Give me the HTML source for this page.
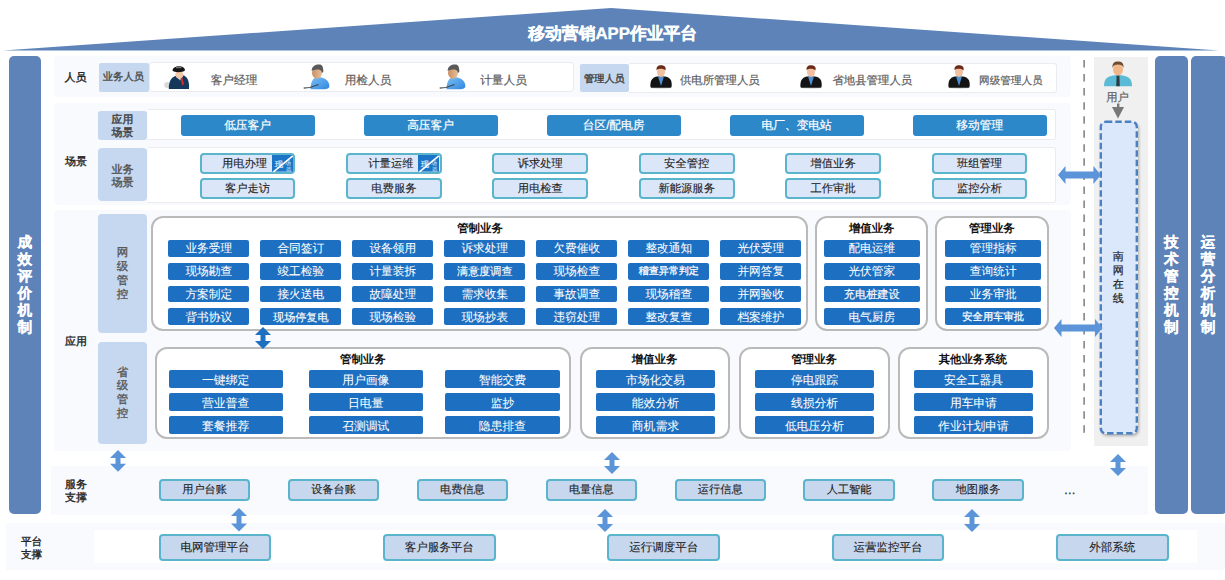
<!DOCTYPE html><html><head><meta charset="utf-8"><style>
html,body{margin:0;padding:0;background:#fff;}
body{width:1225px;height:580px;position:relative;overflow:hidden;font-family:"Liberation Sans", sans-serif;text-rendering:geometricPrecision;}
div{box-sizing:border-box;}
svg{position:absolute;overflow:visible;}
</style></head><body>
<svg style="left:0;top:0" width="1225" height="60"><polygon points="3,50.5 611,8 1219,50.5" fill="#5d83b9"/></svg>
<div style="position:absolute;left:412.70px;top:24.40px;width:400.00px;height:20.00px;line-height:20.00px;text-align:center;white-space:nowrap;color:#fff;font-size:16.8px;font-weight:bold;-webkit-text-stroke:0.3px #fff;">移动营销APP作业平台</div>
<div style="position:absolute;left:8.50px;top:56.00px;width:32.50px;height:457.50px;background:#5e83b9;border-radius:5px;"></div>
<div style="position:absolute;left:1155.00px;top:56.00px;width:32.50px;height:457.50px;background:#5e83b9;border-radius:5px;"></div>
<div style="position:absolute;left:1191.00px;top:56.00px;width:36.00px;height:457.50px;background:#5e83b9;border-radius:5px;"></div>
<div style="position:absolute;left:-175.10px;top:232.70px;width:400.00px;height:20.00px;line-height:20.00px;text-align:center;white-space:nowrap;color:#fff;font-size:14.6px;font-weight:bold;-webkit-text-stroke:0.2px #fff;">成</div>
<div style="position:absolute;left:-175.10px;top:249.80px;width:400.00px;height:20.00px;line-height:20.00px;text-align:center;white-space:nowrap;color:#fff;font-size:14.6px;font-weight:bold;-webkit-text-stroke:0.2px #fff;">效</div>
<div style="position:absolute;left:-175.10px;top:266.90px;width:400.00px;height:20.00px;line-height:20.00px;text-align:center;white-space:nowrap;color:#fff;font-size:14.6px;font-weight:bold;-webkit-text-stroke:0.2px #fff;">评</div>
<div style="position:absolute;left:-175.10px;top:284.00px;width:400.00px;height:20.00px;line-height:20.00px;text-align:center;white-space:nowrap;color:#fff;font-size:14.6px;font-weight:bold;-webkit-text-stroke:0.2px #fff;">价</div>
<div style="position:absolute;left:-175.10px;top:301.10px;width:400.00px;height:20.00px;line-height:20.00px;text-align:center;white-space:nowrap;color:#fff;font-size:14.6px;font-weight:bold;-webkit-text-stroke:0.2px #fff;">机</div>
<div style="position:absolute;left:-175.10px;top:318.20px;width:400.00px;height:20.00px;line-height:20.00px;text-align:center;white-space:nowrap;color:#fff;font-size:14.6px;font-weight:bold;-webkit-text-stroke:0.2px #fff;">制</div>
<div style="position:absolute;left:971.30px;top:232.70px;width:400.00px;height:20.00px;line-height:20.00px;text-align:center;white-space:nowrap;color:#fff;font-size:14.6px;font-weight:bold;-webkit-text-stroke:0.2px #fff;">技</div>
<div style="position:absolute;left:971.30px;top:249.80px;width:400.00px;height:20.00px;line-height:20.00px;text-align:center;white-space:nowrap;color:#fff;font-size:14.6px;font-weight:bold;-webkit-text-stroke:0.2px #fff;">术</div>
<div style="position:absolute;left:971.30px;top:266.90px;width:400.00px;height:20.00px;line-height:20.00px;text-align:center;white-space:nowrap;color:#fff;font-size:14.6px;font-weight:bold;-webkit-text-stroke:0.2px #fff;">管</div>
<div style="position:absolute;left:971.30px;top:284.00px;width:400.00px;height:20.00px;line-height:20.00px;text-align:center;white-space:nowrap;color:#fff;font-size:14.6px;font-weight:bold;-webkit-text-stroke:0.2px #fff;">控</div>
<div style="position:absolute;left:971.30px;top:301.10px;width:400.00px;height:20.00px;line-height:20.00px;text-align:center;white-space:nowrap;color:#fff;font-size:14.6px;font-weight:bold;-webkit-text-stroke:0.2px #fff;">机</div>
<div style="position:absolute;left:971.30px;top:318.20px;width:400.00px;height:20.00px;line-height:20.00px;text-align:center;white-space:nowrap;color:#fff;font-size:14.6px;font-weight:bold;-webkit-text-stroke:0.2px #fff;">制</div>
<div style="position:absolute;left:1008.00px;top:232.70px;width:400.00px;height:20.00px;line-height:20.00px;text-align:center;white-space:nowrap;color:#fff;font-size:14.6px;font-weight:bold;-webkit-text-stroke:0.2px #fff;">运</div>
<div style="position:absolute;left:1008.00px;top:249.80px;width:400.00px;height:20.00px;line-height:20.00px;text-align:center;white-space:nowrap;color:#fff;font-size:14.6px;font-weight:bold;-webkit-text-stroke:0.2px #fff;">营</div>
<div style="position:absolute;left:1008.00px;top:266.90px;width:400.00px;height:20.00px;line-height:20.00px;text-align:center;white-space:nowrap;color:#fff;font-size:14.6px;font-weight:bold;-webkit-text-stroke:0.2px #fff;">分</div>
<div style="position:absolute;left:1008.00px;top:284.00px;width:400.00px;height:20.00px;line-height:20.00px;text-align:center;white-space:nowrap;color:#fff;font-size:14.6px;font-weight:bold;-webkit-text-stroke:0.2px #fff;">析</div>
<div style="position:absolute;left:1008.00px;top:301.10px;width:400.00px;height:20.00px;line-height:20.00px;text-align:center;white-space:nowrap;color:#fff;font-size:14.6px;font-weight:bold;-webkit-text-stroke:0.2px #fff;">机</div>
<div style="position:absolute;left:1008.00px;top:318.20px;width:400.00px;height:20.00px;line-height:20.00px;text-align:center;white-space:nowrap;color:#fff;font-size:14.6px;font-weight:bold;-webkit-text-stroke:0.2px #fff;">制</div>
<div style="position:absolute;left:54.00px;top:56.00px;width:1017.00px;height:40.50px;background:#f9fafd;border-radius:4px;"></div>
<div style="position:absolute;left:54.00px;top:102.50px;width:1017.00px;height:102.50px;background:#f9fafd;border-radius:4px;"></div>
<div style="position:absolute;left:54.00px;top:210.00px;width:1017.00px;height:241.00px;background:#f9fafd;border-radius:4px;"></div>
<div style="position:absolute;left:51.00px;top:465.50px;width:1097.00px;height:49.50px;background:#f9fafd;"></div>
<div style="position:absolute;left:6.00px;top:522.80px;width:1219.00px;height:47.50px;background:#f9fafd;"></div>
<div style="position:absolute;left:93.70px;top:530.20px;width:1103.00px;height:33.20px;background:#fff;"></div>
<div style="position:absolute;left:1093.50px;top:56.50px;width:54.00px;height:389.00px;background:#f0f0f0;"></div>
<svg style="left:1082px;top:60.3px" width="4" height="376"><line x1="2.1" y1="0" x2="2.1" y2="373" stroke="#6a6a6a" stroke-width="1.3" stroke-dasharray="7.5,6.55"/></svg>
<div style="position:absolute;left:-124.40px;top:67.90px;width:400.00px;height:20.00px;line-height:20.00px;text-align:center;white-space:nowrap;color:#222;font-size:11.0px;-webkit-text-stroke:0.35px #222;">人员</div>
<div style="position:absolute;left:99.00px;top:62.80px;width:49.50px;height:29.00px;background:#c6d8f0;border-radius:2px;"></div>
<div style="position:absolute;left:-76.60px;top:67.80px;width:400.00px;height:20.00px;line-height:20.00px;text-align:center;white-space:nowrap;color:#4a4a4a;font-size:10.3px;-webkit-text-stroke:0.35px #4a4a4a;">业务人员</div>
<div style="position:absolute;left:148.50px;top:62.30px;width:425.80px;height:29.50px;background:#fff;border:1px solid #ececf0;border-radius:3px;"></div>
<div style="position:absolute;left:580.20px;top:63.90px;width:49.20px;height:28.50px;background:#c6d8f0;border-radius:2px;"></div>
<div style="position:absolute;left:404.40px;top:70.00px;width:400.00px;height:20.00px;line-height:20.00px;text-align:center;white-space:nowrap;color:#444;font-size:10.2px;-webkit-text-stroke:0.4px #444;">管理人员</div>
<div style="position:absolute;left:629.40px;top:62.50px;width:427.40px;height:30.20px;background:#fff;border:1px solid #ececf0;border-left:none;border-radius:0 3px 3px 0;"></div>
<div style="position:absolute;left:34.00px;top:70.80px;width:400.00px;height:20.00px;line-height:20.00px;text-align:center;white-space:nowrap;color:#606060;font-size:11.65px;-webkit-text-stroke:0.2px #606060;">客户经理</div>
<div style="position:absolute;left:168.00px;top:70.80px;width:400.00px;height:20.00px;line-height:20.00px;text-align:center;white-space:nowrap;color:#606060;font-size:11.65px;-webkit-text-stroke:0.2px #606060;">用检人员</div>
<div style="position:absolute;left:303.50px;top:70.80px;width:400.00px;height:20.00px;line-height:20.00px;text-align:center;white-space:nowrap;color:#606060;font-size:11.65px;-webkit-text-stroke:0.2px #606060;">计量人员</div>
<div style="position:absolute;left:519.80px;top:70.80px;width:400.00px;height:20.00px;line-height:20.00px;text-align:center;white-space:nowrap;color:#606060;font-size:11.4px;-webkit-text-stroke:0.2px #606060;">供电所管理人员</div>
<div style="position:absolute;left:672.30px;top:70.80px;width:400.00px;height:20.00px;line-height:20.00px;text-align:center;white-space:nowrap;color:#606060;font-size:11.4px;-webkit-text-stroke:0.2px #606060;">省地县管理人员</div>
<div style="position:absolute;left:810.90px;top:70.80px;width:400.00px;height:20.00px;line-height:20.00px;text-align:center;white-space:nowrap;color:#606060;font-size:10.6px;-webkit-text-stroke:0.2px #606060;">网级管理人员</div>
<div style="position:absolute;left:-124.00px;top:152.10px;width:400.00px;height:20.00px;line-height:20.00px;text-align:center;white-space:nowrap;color:#222;font-size:11.0px;-webkit-text-stroke:0.35px #222;">场景</div>
<div style="position:absolute;left:98.10px;top:110.50px;width:49.30px;height:29.30px;background:#c6d8f0;border-radius:3px;"></div>
<div style="position:absolute;left:-77.60px;top:109.60px;width:400.00px;height:20.00px;line-height:20.00px;text-align:center;white-space:nowrap;color:#444;font-size:10.9px;-webkit-text-stroke:0.45px #444;">应用</div>
<div style="position:absolute;left:-77.60px;top:123.30px;width:400.00px;height:20.00px;line-height:20.00px;text-align:center;white-space:nowrap;color:#444;font-size:10.9px;-webkit-text-stroke:0.45px #444;">场景</div>
<div style="position:absolute;left:147.80px;top:109.30px;width:908.00px;height:31.00px;background:#fff;border:1px solid #ececf0;border-left:none;border-radius:0 3px 3px 0;"></div>
<div style="position:absolute;left:180.50px;top:114.70px;width:134.00px;height:21.30px;background:#2c88c9;border-radius:3px;"></div>
<div style="position:absolute;left:47.50px;top:115.90px;width:400.00px;height:20.00px;line-height:20.00px;text-align:center;white-space:nowrap;color:#fff;font-size:11.7px;-webkit-text-stroke:0.2px #fff;">低压客户</div>
<div style="position:absolute;left:363.55px;top:114.70px;width:134.00px;height:21.30px;background:#2c88c9;border-radius:3px;"></div>
<div style="position:absolute;left:230.55px;top:115.90px;width:400.00px;height:20.00px;line-height:20.00px;text-align:center;white-space:nowrap;color:#fff;font-size:11.7px;-webkit-text-stroke:0.2px #fff;">高压客户</div>
<div style="position:absolute;left:546.60px;top:114.70px;width:134.00px;height:21.30px;background:#2c88c9;border-radius:3px;"></div>
<div style="position:absolute;left:413.60px;top:115.90px;width:400.00px;height:20.00px;line-height:20.00px;text-align:center;white-space:nowrap;color:#fff;font-size:11.7px;-webkit-text-stroke:0.2px #fff;">台区/配电房</div>
<div style="position:absolute;left:729.65px;top:114.70px;width:134.00px;height:21.30px;background:#2c88c9;border-radius:3px;"></div>
<div style="position:absolute;left:596.65px;top:115.90px;width:400.00px;height:20.00px;line-height:20.00px;text-align:center;white-space:nowrap;color:#fff;font-size:11.7px;-webkit-text-stroke:0.2px #fff;">电厂、变电站</div>
<div style="position:absolute;left:912.70px;top:114.70px;width:134.00px;height:21.30px;background:#2c88c9;border-radius:3px;"></div>
<div style="position:absolute;left:779.70px;top:115.90px;width:400.00px;height:20.00px;line-height:20.00px;text-align:center;white-space:nowrap;color:#fff;font-size:11.7px;-webkit-text-stroke:0.2px #fff;">移动管理</div>
<div style="position:absolute;left:97.60px;top:148.10px;width:49.80px;height:52.70px;background:#c6d8f0;border-radius:4px;"></div>
<div style="position:absolute;left:-77.40px;top:159.80px;width:400.00px;height:20.00px;line-height:20.00px;text-align:center;white-space:nowrap;color:#555;font-size:11.1px;-webkit-text-stroke:0.4px #555;">业务</div>
<div style="position:absolute;left:-77.40px;top:173.40px;width:400.00px;height:20.00px;line-height:20.00px;text-align:center;white-space:nowrap;color:#555;font-size:11.1px;-webkit-text-stroke:0.4px #555;">场景</div>
<div style="position:absolute;left:147.80px;top:147.00px;width:908.00px;height:55.50px;background:#fff;border:1px solid #ececf0;border-left:none;border-radius:0 3px 3px 0;"></div>
<div style="position:absolute;left:199.60px;top:152.80px;width:95.80px;height:21.00px;background:#dce6f9;border:2px solid #5ab4cb;border-radius:4px;"></div>
<div style="position:absolute;left:44.50px;top:154.10px;width:400.00px;height:20.00px;line-height:20.00px;text-align:center;white-space:nowrap;color:#222;font-size:11.3px;-webkit-text-stroke:0.1px #222;">用电办理</div>
<div style="position:absolute;left:199.60px;top:177.70px;width:95.80px;height:21.00px;background:#dce6f9;border:2px solid #5ab4cb;border-radius:4px;"></div>
<div style="position:absolute;left:47.50px;top:179.00px;width:400.00px;height:20.00px;line-height:20.00px;text-align:center;white-space:nowrap;color:#222;font-size:11.3px;-webkit-text-stroke:0.1px #222;">客户走访</div>
<svg style="left:271.90px;top:154.5px" width="21" height="17"><rect width="21" height="16.6" fill="#1c74c6"/><text x="3" y="11.5" font-size="8" font-weight="bold" fill="#cfe2f6" font-family="Liberation Sans">现</text><text x="13" y="9.5" font-size="6" fill="#cfe2f6" font-family="Liberation Sans">场</text><text x="14" y="16" font-size="5.5" fill="#cfe2f6" font-family="Liberation Sans">器</text><line x1="1.5" y1="16.8" x2="20.8" y2="0.9" stroke="#fff" stroke-width="1.6"/></svg>
<div style="position:absolute;left:346.00px;top:152.80px;width:95.80px;height:21.00px;background:#dce6f9;border:2px solid #5ab4cb;border-radius:4px;"></div>
<div style="position:absolute;left:190.90px;top:154.10px;width:400.00px;height:20.00px;line-height:20.00px;text-align:center;white-space:nowrap;color:#222;font-size:11.3px;-webkit-text-stroke:0.1px #222;">计量运维</div>
<div style="position:absolute;left:346.00px;top:177.70px;width:95.80px;height:21.00px;background:#dce6f9;border:2px solid #5ab4cb;border-radius:4px;"></div>
<div style="position:absolute;left:193.90px;top:179.00px;width:400.00px;height:20.00px;line-height:20.00px;text-align:center;white-space:nowrap;color:#222;font-size:11.3px;-webkit-text-stroke:0.1px #222;">电费服务</div>
<svg style="left:418.30px;top:154.5px" width="21" height="17"><rect width="21" height="16.6" fill="#1c74c6"/><text x="3" y="11.5" font-size="8" font-weight="bold" fill="#cfe2f6" font-family="Liberation Sans">现</text><text x="13" y="9.5" font-size="6" fill="#cfe2f6" font-family="Liberation Sans">场</text><text x="14" y="16" font-size="5.5" fill="#cfe2f6" font-family="Liberation Sans">器</text><line x1="1.5" y1="16.8" x2="20.8" y2="0.9" stroke="#fff" stroke-width="1.6"/></svg>
<div style="position:absolute;left:492.40px;top:152.80px;width:95.80px;height:21.00px;background:#dce6f9;border:2px solid #5ab4cb;border-radius:4px;"></div>
<div style="position:absolute;left:340.30px;top:154.10px;width:400.00px;height:20.00px;line-height:20.00px;text-align:center;white-space:nowrap;color:#222;font-size:11.3px;-webkit-text-stroke:0.1px #222;">诉求处理</div>
<div style="position:absolute;left:492.40px;top:177.70px;width:95.80px;height:21.00px;background:#dce6f9;border:2px solid #5ab4cb;border-radius:4px;"></div>
<div style="position:absolute;left:340.30px;top:179.00px;width:400.00px;height:20.00px;line-height:20.00px;text-align:center;white-space:nowrap;color:#222;font-size:11.3px;-webkit-text-stroke:0.1px #222;">用电检查</div>
<div style="position:absolute;left:638.80px;top:152.80px;width:95.80px;height:21.00px;background:#dce6f9;border:2px solid #5ab4cb;border-radius:4px;"></div>
<div style="position:absolute;left:486.70px;top:154.10px;width:400.00px;height:20.00px;line-height:20.00px;text-align:center;white-space:nowrap;color:#222;font-size:11.3px;-webkit-text-stroke:0.1px #222;">安全管控</div>
<div style="position:absolute;left:638.80px;top:177.70px;width:95.80px;height:21.00px;background:#dce6f9;border:2px solid #5ab4cb;border-radius:4px;"></div>
<div style="position:absolute;left:486.70px;top:179.00px;width:400.00px;height:20.00px;line-height:20.00px;text-align:center;white-space:nowrap;color:#222;font-size:11.3px;-webkit-text-stroke:0.1px #222;">新能源服务</div>
<div style="position:absolute;left:785.20px;top:152.80px;width:95.80px;height:21.00px;background:#dce6f9;border:2px solid #5ab4cb;border-radius:4px;"></div>
<div style="position:absolute;left:633.10px;top:154.10px;width:400.00px;height:20.00px;line-height:20.00px;text-align:center;white-space:nowrap;color:#222;font-size:11.3px;-webkit-text-stroke:0.1px #222;">增值业务</div>
<div style="position:absolute;left:785.20px;top:177.70px;width:95.80px;height:21.00px;background:#dce6f9;border:2px solid #5ab4cb;border-radius:4px;"></div>
<div style="position:absolute;left:633.10px;top:179.00px;width:400.00px;height:20.00px;line-height:20.00px;text-align:center;white-space:nowrap;color:#222;font-size:11.3px;-webkit-text-stroke:0.1px #222;">工作审批</div>
<div style="position:absolute;left:931.60px;top:152.80px;width:95.80px;height:21.00px;background:#dce6f9;border:2px solid #5ab4cb;border-radius:4px;"></div>
<div style="position:absolute;left:779.50px;top:154.10px;width:400.00px;height:20.00px;line-height:20.00px;text-align:center;white-space:nowrap;color:#222;font-size:11.3px;-webkit-text-stroke:0.1px #222;">班组管理</div>
<div style="position:absolute;left:931.60px;top:177.70px;width:95.80px;height:21.00px;background:#dce6f9;border:2px solid #5ab4cb;border-radius:4px;"></div>
<div style="position:absolute;left:779.50px;top:179.00px;width:400.00px;height:20.00px;line-height:20.00px;text-align:center;white-space:nowrap;color:#222;font-size:11.3px;-webkit-text-stroke:0.1px #222;">监控分析</div>
<div style="position:absolute;left:-124.00px;top:331.50px;width:400.00px;height:20.00px;line-height:20.00px;text-align:center;white-space:nowrap;color:#222;font-size:11.0px;-webkit-text-stroke:0.35px #222;">应用</div>
<div style="position:absolute;left:97.60px;top:214.00px;width:49.40px;height:118.70px;background:#c6d8f0;border-radius:4px;"></div>
<div style="position:absolute;left:-77.50px;top:243.40px;width:400.00px;height:20.00px;line-height:20.00px;text-align:center;white-space:nowrap;color:#555;font-size:11.5px;-webkit-text-stroke:0.3px #555;">网</div>
<div style="position:absolute;left:-77.50px;top:257.10px;width:400.00px;height:20.00px;line-height:20.00px;text-align:center;white-space:nowrap;color:#555;font-size:11.5px;-webkit-text-stroke:0.3px #555;">级</div>
<div style="position:absolute;left:-77.50px;top:270.80px;width:400.00px;height:20.00px;line-height:20.00px;text-align:center;white-space:nowrap;color:#555;font-size:11.5px;-webkit-text-stroke:0.3px #555;">管</div>
<div style="position:absolute;left:-77.50px;top:284.50px;width:400.00px;height:20.00px;line-height:20.00px;text-align:center;white-space:nowrap;color:#555;font-size:11.5px;-webkit-text-stroke:0.3px #555;">控</div>
<div style="position:absolute;left:97.80px;top:342.00px;width:49.20px;height:101.80px;background:#c6d8f0;border-radius:4px;"></div>
<div style="position:absolute;left:-77.50px;top:362.50px;width:400.00px;height:20.00px;line-height:20.00px;text-align:center;white-space:nowrap;color:#555;font-size:11.5px;-webkit-text-stroke:0.3px #555;">省</div>
<div style="position:absolute;left:-77.50px;top:376.40px;width:400.00px;height:20.00px;line-height:20.00px;text-align:center;white-space:nowrap;color:#555;font-size:11.5px;-webkit-text-stroke:0.3px #555;">级</div>
<div style="position:absolute;left:-77.50px;top:390.30px;width:400.00px;height:20.00px;line-height:20.00px;text-align:center;white-space:nowrap;color:#555;font-size:11.5px;-webkit-text-stroke:0.3px #555;">管</div>
<div style="position:absolute;left:-77.50px;top:404.20px;width:400.00px;height:20.00px;line-height:20.00px;text-align:center;white-space:nowrap;color:#555;font-size:11.5px;-webkit-text-stroke:0.3px #555;">控</div>
<div style="position:absolute;left:151.40px;top:215.60px;width:657.00px;height:115.10px;background:#fff;border:2px solid #bababa;border-radius:12px;"></div>
<div style="position:absolute;left:280.00px;top:219.30px;width:400.00px;height:20.00px;line-height:20.00px;text-align:center;white-space:nowrap;color:#111;font-size:11.4px;font-weight:bold;">管制业务</div>
<div style="position:absolute;left:815.20px;top:215.60px;width:113.20px;height:115.10px;background:#fff;border:2px solid #bababa;border-radius:12px;"></div>
<div style="position:absolute;left:671.70px;top:219.30px;width:400.00px;height:20.00px;line-height:20.00px;text-align:center;white-space:nowrap;color:#111;font-size:11.4px;font-weight:bold;">增值业务</div>
<div style="position:absolute;left:935.40px;top:215.60px;width:114.00px;height:115.10px;background:#fff;border:2px solid #bababa;border-radius:12px;"></div>
<div style="position:absolute;left:791.90px;top:219.30px;width:400.00px;height:20.00px;line-height:20.00px;text-align:center;white-space:nowrap;color:#111;font-size:11.4px;font-weight:bold;">管理业务</div>
<div style="position:absolute;left:168.20px;top:240.00px;width:81.20px;height:16.80px;background:#1c6fc1;border-radius:2px;"></div>
<div style="position:absolute;left:8.80px;top:239.40px;width:400.00px;height:20.00px;line-height:20.00px;text-align:center;white-space:nowrap;color:#fff;font-size:11.7px;-webkit-text-stroke:0.05px #fff;">业务受理</div>
<div style="position:absolute;left:260.20px;top:240.00px;width:81.20px;height:16.80px;background:#1c6fc1;border-radius:2px;"></div>
<div style="position:absolute;left:100.80px;top:239.40px;width:400.00px;height:20.00px;line-height:20.00px;text-align:center;white-space:nowrap;color:#fff;font-size:11.7px;-webkit-text-stroke:0.05px #fff;">合同签订</div>
<div style="position:absolute;left:352.20px;top:240.00px;width:81.20px;height:16.80px;background:#1c6fc1;border-radius:2px;"></div>
<div style="position:absolute;left:192.80px;top:239.40px;width:400.00px;height:20.00px;line-height:20.00px;text-align:center;white-space:nowrap;color:#fff;font-size:11.7px;-webkit-text-stroke:0.05px #fff;">设备领用</div>
<div style="position:absolute;left:444.20px;top:240.00px;width:81.20px;height:16.80px;background:#1c6fc1;border-radius:2px;"></div>
<div style="position:absolute;left:284.80px;top:239.40px;width:400.00px;height:20.00px;line-height:20.00px;text-align:center;white-space:nowrap;color:#fff;font-size:11.7px;-webkit-text-stroke:0.05px #fff;">诉求处理</div>
<div style="position:absolute;left:536.20px;top:240.00px;width:81.20px;height:16.80px;background:#1c6fc1;border-radius:2px;"></div>
<div style="position:absolute;left:376.80px;top:239.40px;width:400.00px;height:20.00px;line-height:20.00px;text-align:center;white-space:nowrap;color:#fff;font-size:11.7px;-webkit-text-stroke:0.05px #fff;">欠费催收</div>
<div style="position:absolute;left:628.20px;top:240.00px;width:81.20px;height:16.80px;background:#1c6fc1;border-radius:2px;"></div>
<div style="position:absolute;left:468.80px;top:239.40px;width:400.00px;height:20.00px;line-height:20.00px;text-align:center;white-space:nowrap;color:#fff;font-size:11.7px;-webkit-text-stroke:0.05px #fff;">整改通知</div>
<div style="position:absolute;left:720.20px;top:240.00px;width:81.20px;height:16.80px;background:#1c6fc1;border-radius:2px;"></div>
<div style="position:absolute;left:560.80px;top:239.40px;width:400.00px;height:20.00px;line-height:20.00px;text-align:center;white-space:nowrap;color:#fff;font-size:11.7px;-webkit-text-stroke:0.05px #fff;">光伏受理</div>
<div style="position:absolute;left:168.20px;top:262.80px;width:81.20px;height:16.80px;background:#1c6fc1;border-radius:2px;"></div>
<div style="position:absolute;left:8.80px;top:262.20px;width:400.00px;height:20.00px;line-height:20.00px;text-align:center;white-space:nowrap;color:#fff;font-size:11.7px;-webkit-text-stroke:0.05px #fff;">现场勘查</div>
<div style="position:absolute;left:260.20px;top:262.80px;width:81.20px;height:16.80px;background:#1c6fc1;border-radius:2px;"></div>
<div style="position:absolute;left:100.80px;top:262.20px;width:400.00px;height:20.00px;line-height:20.00px;text-align:center;white-space:nowrap;color:#fff;font-size:11.7px;-webkit-text-stroke:0.05px #fff;">竣工检验</div>
<div style="position:absolute;left:352.20px;top:262.80px;width:81.20px;height:16.80px;background:#1c6fc1;border-radius:2px;"></div>
<div style="position:absolute;left:192.80px;top:262.20px;width:400.00px;height:20.00px;line-height:20.00px;text-align:center;white-space:nowrap;color:#fff;font-size:11.7px;-webkit-text-stroke:0.05px #fff;">计量装拆</div>
<div style="position:absolute;left:444.20px;top:262.80px;width:81.20px;height:16.80px;background:#1c6fc1;border-radius:2px;"></div>
<div style="position:absolute;left:284.80px;top:262.20px;width:400.00px;height:20.00px;line-height:20.00px;text-align:center;white-space:nowrap;color:#fff;font-size:11.1px;-webkit-text-stroke:0.15px #fff;">满意度调查</div>
<div style="position:absolute;left:536.20px;top:262.80px;width:81.20px;height:16.80px;background:#1c6fc1;border-radius:2px;"></div>
<div style="position:absolute;left:376.80px;top:262.20px;width:400.00px;height:20.00px;line-height:20.00px;text-align:center;white-space:nowrap;color:#fff;font-size:11.7px;-webkit-text-stroke:0.05px #fff;">现场检查</div>
<div style="position:absolute;left:628.20px;top:262.80px;width:81.20px;height:16.80px;background:#1c6fc1;border-radius:2px;"></div>
<div style="position:absolute;left:468.80px;top:262.20px;width:400.00px;height:20.00px;line-height:20.00px;text-align:center;white-space:nowrap;color:#fff;font-size:10px;-webkit-text-stroke:0.3px #fff;">稽查异常判定</div>
<div style="position:absolute;left:720.20px;top:262.80px;width:81.20px;height:16.80px;background:#1c6fc1;border-radius:2px;"></div>
<div style="position:absolute;left:560.80px;top:262.20px;width:400.00px;height:20.00px;line-height:20.00px;text-align:center;white-space:nowrap;color:#fff;font-size:11.7px;-webkit-text-stroke:0.05px #fff;">并网答复</div>
<div style="position:absolute;left:168.20px;top:285.60px;width:81.20px;height:16.80px;background:#1c6fc1;border-radius:2px;"></div>
<div style="position:absolute;left:8.80px;top:285.00px;width:400.00px;height:20.00px;line-height:20.00px;text-align:center;white-space:nowrap;color:#fff;font-size:11.7px;-webkit-text-stroke:0.05px #fff;">方案制定</div>
<div style="position:absolute;left:260.20px;top:285.60px;width:81.20px;height:16.80px;background:#1c6fc1;border-radius:2px;"></div>
<div style="position:absolute;left:100.80px;top:285.00px;width:400.00px;height:20.00px;line-height:20.00px;text-align:center;white-space:nowrap;color:#fff;font-size:11.7px;-webkit-text-stroke:0.05px #fff;">接火送电</div>
<div style="position:absolute;left:352.20px;top:285.60px;width:81.20px;height:16.80px;background:#1c6fc1;border-radius:2px;"></div>
<div style="position:absolute;left:192.80px;top:285.00px;width:400.00px;height:20.00px;line-height:20.00px;text-align:center;white-space:nowrap;color:#fff;font-size:11.7px;-webkit-text-stroke:0.05px #fff;">故障处理</div>
<div style="position:absolute;left:444.20px;top:285.60px;width:81.20px;height:16.80px;background:#1c6fc1;border-radius:2px;"></div>
<div style="position:absolute;left:284.80px;top:285.00px;width:400.00px;height:20.00px;line-height:20.00px;text-align:center;white-space:nowrap;color:#fff;font-size:11.7px;-webkit-text-stroke:0.05px #fff;">需求收集</div>
<div style="position:absolute;left:536.20px;top:285.60px;width:81.20px;height:16.80px;background:#1c6fc1;border-radius:2px;"></div>
<div style="position:absolute;left:376.80px;top:285.00px;width:400.00px;height:20.00px;line-height:20.00px;text-align:center;white-space:nowrap;color:#fff;font-size:11.7px;-webkit-text-stroke:0.05px #fff;">事故调查</div>
<div style="position:absolute;left:628.20px;top:285.60px;width:81.20px;height:16.80px;background:#1c6fc1;border-radius:2px;"></div>
<div style="position:absolute;left:468.80px;top:285.00px;width:400.00px;height:20.00px;line-height:20.00px;text-align:center;white-space:nowrap;color:#fff;font-size:11.7px;-webkit-text-stroke:0.05px #fff;">现场稽查</div>
<div style="position:absolute;left:720.20px;top:285.60px;width:81.20px;height:16.80px;background:#1c6fc1;border-radius:2px;"></div>
<div style="position:absolute;left:560.80px;top:285.00px;width:400.00px;height:20.00px;line-height:20.00px;text-align:center;white-space:nowrap;color:#fff;font-size:11.7px;-webkit-text-stroke:0.05px #fff;">并网验收</div>
<div style="position:absolute;left:168.20px;top:308.30px;width:81.20px;height:16.80px;background:#1c6fc1;border-radius:2px;"></div>
<div style="position:absolute;left:8.80px;top:307.70px;width:400.00px;height:20.00px;line-height:20.00px;text-align:center;white-space:nowrap;color:#fff;font-size:11.7px;-webkit-text-stroke:0.05px #fff;">背书协议</div>
<div style="position:absolute;left:260.20px;top:308.30px;width:81.20px;height:16.80px;background:#1c6fc1;border-radius:2px;"></div>
<div style="position:absolute;left:100.80px;top:307.70px;width:400.00px;height:20.00px;line-height:20.00px;text-align:center;white-space:nowrap;color:#fff;font-size:11.1px;-webkit-text-stroke:0.15px #fff;">现场停复电</div>
<div style="position:absolute;left:352.20px;top:308.30px;width:81.20px;height:16.80px;background:#1c6fc1;border-radius:2px;"></div>
<div style="position:absolute;left:192.80px;top:307.70px;width:400.00px;height:20.00px;line-height:20.00px;text-align:center;white-space:nowrap;color:#fff;font-size:11.7px;-webkit-text-stroke:0.05px #fff;">现场检验</div>
<div style="position:absolute;left:444.20px;top:308.30px;width:81.20px;height:16.80px;background:#1c6fc1;border-radius:2px;"></div>
<div style="position:absolute;left:284.80px;top:307.70px;width:400.00px;height:20.00px;line-height:20.00px;text-align:center;white-space:nowrap;color:#fff;font-size:11.7px;-webkit-text-stroke:0.05px #fff;">现场抄表</div>
<div style="position:absolute;left:536.20px;top:308.30px;width:81.20px;height:16.80px;background:#1c6fc1;border-radius:2px;"></div>
<div style="position:absolute;left:376.80px;top:307.70px;width:400.00px;height:20.00px;line-height:20.00px;text-align:center;white-space:nowrap;color:#fff;font-size:11.7px;-webkit-text-stroke:0.05px #fff;">违窃处理</div>
<div style="position:absolute;left:628.20px;top:308.30px;width:81.20px;height:16.80px;background:#1c6fc1;border-radius:2px;"></div>
<div style="position:absolute;left:468.80px;top:307.70px;width:400.00px;height:20.00px;line-height:20.00px;text-align:center;white-space:nowrap;color:#fff;font-size:11.7px;-webkit-text-stroke:0.05px #fff;">整改复查</div>
<div style="position:absolute;left:720.20px;top:308.30px;width:81.20px;height:16.80px;background:#1c6fc1;border-radius:2px;"></div>
<div style="position:absolute;left:560.80px;top:307.70px;width:400.00px;height:20.00px;line-height:20.00px;text-align:center;white-space:nowrap;color:#fff;font-size:11.7px;-webkit-text-stroke:0.05px #fff;">档案维护</div>
<div style="position:absolute;left:823.90px;top:240.00px;width:95.70px;height:16.80px;background:#1c6fc1;border-radius:2px;"></div>
<div style="position:absolute;left:671.75px;top:239.40px;width:400.00px;height:20.00px;line-height:20.00px;text-align:center;white-space:nowrap;color:#fff;font-size:11.7px;-webkit-text-stroke:0.05px #fff;">配电运维</div>
<div style="position:absolute;left:823.90px;top:262.80px;width:95.70px;height:16.80px;background:#1c6fc1;border-radius:2px;"></div>
<div style="position:absolute;left:671.75px;top:262.20px;width:400.00px;height:20.00px;line-height:20.00px;text-align:center;white-space:nowrap;color:#fff;font-size:11.7px;-webkit-text-stroke:0.05px #fff;">光伏管家</div>
<div style="position:absolute;left:823.90px;top:285.60px;width:95.70px;height:16.80px;background:#1c6fc1;border-radius:2px;"></div>
<div style="position:absolute;left:671.75px;top:285.00px;width:400.00px;height:20.00px;line-height:20.00px;text-align:center;white-space:nowrap;color:#fff;font-size:11.2px;-webkit-text-stroke:0.15px #fff;">充电桩建设</div>
<div style="position:absolute;left:823.90px;top:308.30px;width:95.70px;height:16.80px;background:#1c6fc1;border-radius:2px;"></div>
<div style="position:absolute;left:671.75px;top:307.70px;width:400.00px;height:20.00px;line-height:20.00px;text-align:center;white-space:nowrap;color:#fff;font-size:11.7px;-webkit-text-stroke:0.05px #fff;">电气厨房</div>
<div style="position:absolute;left:945.20px;top:240.00px;width:96.00px;height:16.80px;background:#1c6fc1;border-radius:2px;"></div>
<div style="position:absolute;left:793.20px;top:239.40px;width:400.00px;height:20.00px;line-height:20.00px;text-align:center;white-space:nowrap;color:#fff;font-size:11.7px;-webkit-text-stroke:0.05px #fff;">管理指标</div>
<div style="position:absolute;left:945.20px;top:262.80px;width:96.00px;height:16.80px;background:#1c6fc1;border-radius:2px;"></div>
<div style="position:absolute;left:793.20px;top:262.20px;width:400.00px;height:20.00px;line-height:20.00px;text-align:center;white-space:nowrap;color:#fff;font-size:11.7px;-webkit-text-stroke:0.05px #fff;">查询统计</div>
<div style="position:absolute;left:945.20px;top:285.60px;width:96.00px;height:16.80px;background:#1c6fc1;border-radius:2px;"></div>
<div style="position:absolute;left:793.20px;top:285.00px;width:400.00px;height:20.00px;line-height:20.00px;text-align:center;white-space:nowrap;color:#fff;font-size:11.7px;-webkit-text-stroke:0.05px #fff;">业务审批</div>
<div style="position:absolute;left:945.20px;top:308.30px;width:96.00px;height:16.80px;background:#1c6fc1;border-radius:2px;"></div>
<div style="position:absolute;left:793.20px;top:307.70px;width:400.00px;height:20.00px;line-height:20.00px;text-align:center;white-space:nowrap;color:#fff;font-size:10.3px;-webkit-text-stroke:0.25px #fff;">安全用车审批</div>
<div style="position:absolute;left:155.00px;top:347.00px;width:416.00px;height:92.30px;background:#fff;border:2px solid #bababa;border-radius:12px;"></div>
<div style="position:absolute;left:162.80px;top:350.00px;width:400.00px;height:20.00px;line-height:20.00px;text-align:center;white-space:nowrap;color:#111;font-size:11.4px;font-weight:bold;">管制业务</div>
<div style="position:absolute;left:579.60px;top:347.00px;width:150.60px;height:92.30px;background:#fff;border:2px solid #bababa;border-radius:12px;"></div>
<div style="position:absolute;left:454.60px;top:350.00px;width:400.00px;height:20.00px;line-height:20.00px;text-align:center;white-space:nowrap;color:#111;font-size:11.4px;font-weight:bold;">增值业务</div>
<div style="position:absolute;left:738.70px;top:347.00px;width:150.90px;height:92.30px;background:#fff;border:2px solid #bababa;border-radius:12px;"></div>
<div style="position:absolute;left:614.20px;top:350.00px;width:400.00px;height:20.00px;line-height:20.00px;text-align:center;white-space:nowrap;color:#111;font-size:11.4px;font-weight:bold;">管理业务</div>
<div style="position:absolute;left:898.10px;top:347.00px;width:151.10px;height:92.30px;background:#fff;border:2px solid #bababa;border-radius:12px;"></div>
<div style="position:absolute;left:772.80px;top:350.00px;width:400.00px;height:20.00px;line-height:20.00px;text-align:center;white-space:nowrap;color:#111;font-size:11.4px;font-weight:bold;">其他业务系统</div>
<div style="position:absolute;left:168.50px;top:369.50px;width:114.30px;height:18.50px;background:#1c6fc1;border-radius:2px;"></div>
<div style="position:absolute;left:25.65px;top:369.60px;width:400.00px;height:20.00px;line-height:20.00px;text-align:center;white-space:nowrap;color:#fff;font-size:11.8px;-webkit-text-stroke:0.05px #fff;">一键绑定</div>
<div style="position:absolute;left:168.50px;top:392.70px;width:114.30px;height:18.50px;background:#1c6fc1;border-radius:2px;"></div>
<div style="position:absolute;left:25.65px;top:392.80px;width:400.00px;height:20.00px;line-height:20.00px;text-align:center;white-space:nowrap;color:#fff;font-size:11.8px;-webkit-text-stroke:0.05px #fff;">营业普查</div>
<div style="position:absolute;left:168.50px;top:415.80px;width:114.30px;height:18.50px;background:#1c6fc1;border-radius:2px;"></div>
<div style="position:absolute;left:25.65px;top:415.90px;width:400.00px;height:20.00px;line-height:20.00px;text-align:center;white-space:nowrap;color:#fff;font-size:11.8px;-webkit-text-stroke:0.05px #fff;">套餐推荐</div>
<div style="position:absolute;left:308.60px;top:369.50px;width:114.30px;height:18.50px;background:#1c6fc1;border-radius:2px;"></div>
<div style="position:absolute;left:165.75px;top:369.60px;width:400.00px;height:20.00px;line-height:20.00px;text-align:center;white-space:nowrap;color:#fff;font-size:11.8px;-webkit-text-stroke:0.05px #fff;">用户画像</div>
<div style="position:absolute;left:308.60px;top:392.70px;width:114.30px;height:18.50px;background:#1c6fc1;border-radius:2px;"></div>
<div style="position:absolute;left:165.75px;top:392.80px;width:400.00px;height:20.00px;line-height:20.00px;text-align:center;white-space:nowrap;color:#fff;font-size:11.8px;-webkit-text-stroke:0.05px #fff;">日电量</div>
<div style="position:absolute;left:308.60px;top:415.80px;width:114.30px;height:18.50px;background:#1c6fc1;border-radius:2px;"></div>
<div style="position:absolute;left:165.75px;top:415.90px;width:400.00px;height:20.00px;line-height:20.00px;text-align:center;white-space:nowrap;color:#fff;font-size:11.8px;-webkit-text-stroke:0.05px #fff;">召测调试</div>
<div style="position:absolute;left:445.30px;top:369.50px;width:114.30px;height:18.50px;background:#1c6fc1;border-radius:2px;"></div>
<div style="position:absolute;left:302.45px;top:369.60px;width:400.00px;height:20.00px;line-height:20.00px;text-align:center;white-space:nowrap;color:#fff;font-size:11.8px;-webkit-text-stroke:0.05px #fff;">智能交费</div>
<div style="position:absolute;left:445.30px;top:392.70px;width:114.30px;height:18.50px;background:#1c6fc1;border-radius:2px;"></div>
<div style="position:absolute;left:302.45px;top:392.80px;width:400.00px;height:20.00px;line-height:20.00px;text-align:center;white-space:nowrap;color:#fff;font-size:11.8px;-webkit-text-stroke:0.05px #fff;">监抄</div>
<div style="position:absolute;left:445.30px;top:415.80px;width:114.30px;height:18.50px;background:#1c6fc1;border-radius:2px;"></div>
<div style="position:absolute;left:302.45px;top:415.90px;width:400.00px;height:20.00px;line-height:20.00px;text-align:center;white-space:nowrap;color:#fff;font-size:11.8px;-webkit-text-stroke:0.05px #fff;">隐患排查</div>
<div style="position:absolute;left:595.90px;top:369.50px;width:119.00px;height:18.50px;background:#1c6fc1;border-radius:2px;"></div>
<div style="position:absolute;left:455.40px;top:369.60px;width:400.00px;height:20.00px;line-height:20.00px;text-align:center;white-space:nowrap;color:#fff;font-size:11.8px;-webkit-text-stroke:0.05px #fff;">市场化交易</div>
<div style="position:absolute;left:595.90px;top:392.70px;width:119.00px;height:18.50px;background:#1c6fc1;border-radius:2px;"></div>
<div style="position:absolute;left:455.40px;top:392.80px;width:400.00px;height:20.00px;line-height:20.00px;text-align:center;white-space:nowrap;color:#fff;font-size:11.8px;-webkit-text-stroke:0.05px #fff;">能效分析</div>
<div style="position:absolute;left:595.90px;top:415.80px;width:119.00px;height:18.50px;background:#1c6fc1;border-radius:2px;"></div>
<div style="position:absolute;left:455.40px;top:415.90px;width:400.00px;height:20.00px;line-height:20.00px;text-align:center;white-space:nowrap;color:#fff;font-size:11.8px;-webkit-text-stroke:0.05px #fff;">商机需求</div>
<div style="position:absolute;left:755.00px;top:369.50px;width:119.00px;height:18.50px;background:#1c6fc1;border-radius:2px;"></div>
<div style="position:absolute;left:614.50px;top:369.60px;width:400.00px;height:20.00px;line-height:20.00px;text-align:center;white-space:nowrap;color:#fff;font-size:11.8px;-webkit-text-stroke:0.05px #fff;">停电跟踪</div>
<div style="position:absolute;left:755.00px;top:392.70px;width:119.00px;height:18.50px;background:#1c6fc1;border-radius:2px;"></div>
<div style="position:absolute;left:614.50px;top:392.80px;width:400.00px;height:20.00px;line-height:20.00px;text-align:center;white-space:nowrap;color:#fff;font-size:11.8px;-webkit-text-stroke:0.05px #fff;">线损分析</div>
<div style="position:absolute;left:755.00px;top:415.80px;width:119.00px;height:18.50px;background:#1c6fc1;border-radius:2px;"></div>
<div style="position:absolute;left:614.50px;top:415.90px;width:400.00px;height:20.00px;line-height:20.00px;text-align:center;white-space:nowrap;color:#fff;font-size:11.8px;-webkit-text-stroke:0.05px #fff;">低电压分析</div>
<div style="position:absolute;left:914.00px;top:369.50px;width:119.00px;height:18.50px;background:#1c6fc1;border-radius:2px;"></div>
<div style="position:absolute;left:773.50px;top:369.60px;width:400.00px;height:20.00px;line-height:20.00px;text-align:center;white-space:nowrap;color:#fff;font-size:11.8px;-webkit-text-stroke:0.05px #fff;">安全工器具</div>
<div style="position:absolute;left:914.00px;top:392.70px;width:119.00px;height:18.50px;background:#1c6fc1;border-radius:2px;"></div>
<div style="position:absolute;left:773.50px;top:392.80px;width:400.00px;height:20.00px;line-height:20.00px;text-align:center;white-space:nowrap;color:#fff;font-size:11.8px;-webkit-text-stroke:0.05px #fff;">用车申请</div>
<div style="position:absolute;left:914.00px;top:415.80px;width:119.00px;height:18.50px;background:#1c6fc1;border-radius:2px;"></div>
<div style="position:absolute;left:773.50px;top:415.90px;width:400.00px;height:20.00px;line-height:20.00px;text-align:center;white-space:nowrap;color:#fff;font-size:11.8px;-webkit-text-stroke:0.05px #fff;">作业计划申请</div>
<div style="position:absolute;left:-124.00px;top:475.00px;width:400.00px;height:20.00px;line-height:20.00px;text-align:center;white-space:nowrap;color:#222;font-size:11px;-webkit-text-stroke:0.35px #222;">服务</div>
<div style="position:absolute;left:-124.00px;top:488.20px;width:400.00px;height:20.00px;line-height:20.00px;text-align:center;white-space:nowrap;color:#222;font-size:11px;-webkit-text-stroke:0.35px #222;">支撑</div>
<div style="position:absolute;left:158.90px;top:478.50px;width:91.40px;height:22.20px;background:#c7d7ee;border:2px solid #5ab4cb;border-radius:4px;"></div>
<div style="position:absolute;left:4.60px;top:480.30px;width:400.00px;height:20.00px;line-height:20.00px;text-align:center;white-space:nowrap;color:#222;font-size:11.2px;-webkit-text-stroke:0.1px #222;">用户台账</div>
<div style="position:absolute;left:287.80px;top:478.50px;width:91.40px;height:22.20px;background:#c7d7ee;border:2px solid #5ab4cb;border-radius:4px;"></div>
<div style="position:absolute;left:133.50px;top:480.30px;width:400.00px;height:20.00px;line-height:20.00px;text-align:center;white-space:nowrap;color:#222;font-size:11.2px;-webkit-text-stroke:0.1px #222;">设备台账</div>
<div style="position:absolute;left:416.70px;top:478.50px;width:91.40px;height:22.20px;background:#c7d7ee;border:2px solid #5ab4cb;border-radius:4px;"></div>
<div style="position:absolute;left:262.40px;top:480.30px;width:400.00px;height:20.00px;line-height:20.00px;text-align:center;white-space:nowrap;color:#222;font-size:11.2px;-webkit-text-stroke:0.1px #222;">电费信息</div>
<div style="position:absolute;left:545.60px;top:478.50px;width:91.40px;height:22.20px;background:#c7d7ee;border:2px solid #5ab4cb;border-radius:4px;"></div>
<div style="position:absolute;left:391.30px;top:480.30px;width:400.00px;height:20.00px;line-height:20.00px;text-align:center;white-space:nowrap;color:#222;font-size:11.2px;-webkit-text-stroke:0.1px #222;">电量信息</div>
<div style="position:absolute;left:674.50px;top:478.50px;width:91.40px;height:22.20px;background:#c7d7ee;border:2px solid #5ab4cb;border-radius:4px;"></div>
<div style="position:absolute;left:520.20px;top:480.30px;width:400.00px;height:20.00px;line-height:20.00px;text-align:center;white-space:nowrap;color:#222;font-size:11.2px;-webkit-text-stroke:0.1px #222;">运行信息</div>
<div style="position:absolute;left:803.40px;top:478.50px;width:91.40px;height:22.20px;background:#c7d7ee;border:2px solid #5ab4cb;border-radius:4px;"></div>
<div style="position:absolute;left:649.10px;top:480.30px;width:400.00px;height:20.00px;line-height:20.00px;text-align:center;white-space:nowrap;color:#222;font-size:11.2px;-webkit-text-stroke:0.1px #222;">人工智能</div>
<div style="position:absolute;left:932.30px;top:478.50px;width:91.40px;height:22.20px;background:#c7d7ee;border:2px solid #5ab4cb;border-radius:4px;"></div>
<div style="position:absolute;left:778.00px;top:480.30px;width:400.00px;height:20.00px;line-height:20.00px;text-align:center;white-space:nowrap;color:#222;font-size:11.2px;-webkit-text-stroke:0.1px #222;">地图服务</div>
<div style="position:absolute;left:869.80px;top:479.50px;width:400.00px;height:20.00px;line-height:20.00px;text-align:center;white-space:nowrap;color:#222;font-size:12px;-webkit-text-stroke:0.25px #222;">…</div>
<div style="position:absolute;left:-168.50px;top:531.70px;width:400.00px;height:20.00px;line-height:20.00px;text-align:center;white-space:nowrap;color:#222;font-size:10.6px;-webkit-text-stroke:0.35px #222;">平台</div>
<div style="position:absolute;left:-168.50px;top:545.40px;width:400.00px;height:20.00px;line-height:20.00px;text-align:center;white-space:nowrap;color:#222;font-size:10.6px;-webkit-text-stroke:0.35px #222;">支撑</div>
<div style="position:absolute;left:158.80px;top:534.40px;width:112.50px;height:26.30px;background:#c7d7ee;border:2px solid #5ab4cb;border-radius:4px;"></div>
<div style="position:absolute;left:15.05px;top:538.30px;width:400.00px;height:20.00px;line-height:20.00px;text-align:center;white-space:nowrap;color:#222;font-size:11.5px;-webkit-text-stroke:0.12px #222;">电网管理平台</div>
<div style="position:absolute;left:383.10px;top:534.40px;width:112.50px;height:26.30px;background:#c7d7ee;border:2px solid #5ab4cb;border-radius:4px;"></div>
<div style="position:absolute;left:239.35px;top:538.30px;width:400.00px;height:20.00px;line-height:20.00px;text-align:center;white-space:nowrap;color:#222;font-size:11.5px;-webkit-text-stroke:0.12px #222;">客户服务平台</div>
<div style="position:absolute;left:607.40px;top:534.40px;width:112.50px;height:26.30px;background:#c7d7ee;border:2px solid #5ab4cb;border-radius:4px;"></div>
<div style="position:absolute;left:463.65px;top:538.30px;width:400.00px;height:20.00px;line-height:20.00px;text-align:center;white-space:nowrap;color:#222;font-size:11.5px;-webkit-text-stroke:0.12px #222;">运行调度平台</div>
<div style="position:absolute;left:831.70px;top:534.40px;width:112.50px;height:26.30px;background:#c7d7ee;border:2px solid #5ab4cb;border-radius:4px;"></div>
<div style="position:absolute;left:687.95px;top:538.30px;width:400.00px;height:20.00px;line-height:20.00px;text-align:center;white-space:nowrap;color:#222;font-size:11.5px;-webkit-text-stroke:0.12px #222;">运营监控平台</div>
<div style="position:absolute;left:1056.00px;top:534.40px;width:112.50px;height:26.30px;background:#c7d7ee;border:2px solid #5ab4cb;border-radius:4px;"></div>
<div style="position:absolute;left:912.25px;top:538.30px;width:400.00px;height:20.00px;line-height:20.00px;text-align:center;white-space:nowrap;color:#222;font-size:11.5px;-webkit-text-stroke:0.12px #222;">外部系统</div>
<div style="position:absolute;left:917.60px;top:87.50px;width:400.00px;height:20.00px;line-height:20.00px;text-align:center;white-space:nowrap;color:#666;font-size:11.3px;-webkit-text-stroke:0.25px #666;">用户</div>
<svg style="left:1111px;top:103px" width="14" height="17"><rect x="6" y="0.5" width="2.4" height="5" fill="#777"/><polygon points="1,4 13,4 7,15.5" fill="#777"/></svg>
<div style="position:absolute;left:1100.00px;top:121.00px;width:38.00px;height:312.50px;border-radius:6px;box-shadow:1px 2px 3px rgba(0,0,0,0.28);"></div>
<svg style="left:1099px;top:120px" width="40" height="315"><rect x="1.8" y="1.8" width="36" height="311.5" rx="5" ry="5" fill="#dbe7fb" stroke="#4a80c4" stroke-width="2.4" stroke-dasharray="6.5,3"/></svg>
<div style="position:absolute;left:918.20px;top:247.40px;width:400.00px;height:20.00px;line-height:20.00px;text-align:center;white-space:nowrap;color:#222;font-size:11px;-webkit-text-stroke:0.2px #222;">南</div>
<div style="position:absolute;left:918.20px;top:261.20px;width:400.00px;height:20.00px;line-height:20.00px;text-align:center;white-space:nowrap;color:#222;font-size:11px;-webkit-text-stroke:0.2px #222;">网</div>
<div style="position:absolute;left:918.20px;top:275.00px;width:400.00px;height:20.00px;line-height:20.00px;text-align:center;white-space:nowrap;color:#222;font-size:11px;-webkit-text-stroke:0.2px #222;">在</div>
<div style="position:absolute;left:918.20px;top:288.80px;width:400.00px;height:20.00px;line-height:20.00px;text-align:center;white-space:nowrap;color:#222;font-size:11px;-webkit-text-stroke:0.2px #222;">线</div>
<svg style="left:1058.3px;top:166px" width="42.9" height="18"><polygon points="0,9 7.5,0 7.5,5.5 35.4,5.5 35.4,0 42.9,9 35.4,18 35.4,12.5 7.5,12.5 7.5,18" fill="#5b94d9"/></svg>
<svg style="left:1053.5px;top:319.4px" width="48.5" height="18"><polygon points="0,9 7.5,0 7.5,5.5 41.0,5.5 41.0,0 48.5,9 41.0,18 41.0,12.5 7.5,12.5 7.5,18" fill="#5b94d9"/></svg>
<svg style="left:255.3px;top:327.0px" width="16" height="22.0"><polygon points="8,0 16,8 10.5,8 10.5,14.0 16,14.0 8,22.0 0,14.0 5.5,14.0 5.5,8 0,8" fill="#1f6fc1"/></svg>
<svg style="left:110px;top:449.7px" width="16" height="21.7"><polygon points="8,0 16,8 10.5,8 10.5,13.7 16,13.7 8,21.7 0,13.7 5.5,13.7 5.5,8 0,8" fill="#5b94d9"/></svg>
<svg style="left:604px;top:452.2px" width="16" height="22.1"><polygon points="8,0 16,8 10.5,8 10.5,14.1 16,14.1 8,22.1 0,14.1 5.5,14.1 5.5,8 0,8" fill="#5b94d9"/></svg>
<svg style="left:1110px;top:454.4px" width="16" height="22.1"><polygon points="8,0 16,8 10.5,8 10.5,14.1 16,14.1 8,22.1 0,14.1 5.5,14.1 5.5,8 0,8" fill="#5b94d9"/></svg>
<svg style="left:230.8px;top:508.2px" width="16" height="23.4"><polygon points="8,0 16,8 10.5,8 10.5,15.4 16,15.4 8,23.4 0,15.4 5.5,15.4 5.5,8 0,8" fill="#5b94d9"/></svg>
<svg style="left:597.3px;top:508.6px" width="16" height="22.9"><polygon points="8,0 16,8 10.5,8 10.5,14.9 16,14.9 8,22.9 0,14.9 5.5,14.9 5.5,8 0,8" fill="#5b94d9"/></svg>
<svg style="left:964.2px;top:508.6px" width="16" height="22.9"><polygon points="8,0 16,8 10.5,8 10.5,14.9 16,14.9 8,22.9 0,14.9 5.5,14.9 5.5,8 0,8" fill="#5b94d9"/></svg>
<svg style="left:164px;top:63.5px" width="26" height="26" viewBox="0 0 26 26">
<ellipse cx="3" cy="21" rx="2.8" ry="3" fill="#aaa" opacity="0.45"/>
<path d="M4.8,25 C4.5,18 7,13.5 12,11.8 L19,11.3 C23,12.5 25.5,16 25,25 Z" fill="#14375c"/>
<path d="M12.5,12 L16,16.5 L19.5,11.6 Z" fill="#bfe3f5"/>
<path d="M16,13 L18,13 L20.2,20 L18.3,21.5 Z" fill="#d42a2a"/>
<ellipse cx="15.3" cy="10.5" rx="3.9" ry="4.4" fill="#f0c8a8"/>
<path d="M8.6,6.8 C8.2,1.2 20.5,0.6 21,6.2 C19,8.8 10,8.6 8.6,6.8 Z" fill="#141414"/>
<rect x="12" y="2.6" width="5.5" height="1.6" fill="#777"/>
</svg>
<svg style="left:302.5px;top:63.5px" width="28" height="26" viewBox="0 0 28 26">
<defs><linearGradient id="mb" x1="0" y1="0" x2="1" y2="1"><stop offset="0" stop-color="#7cc0f5"/><stop offset="1" stop-color="#2f86e0"/></linearGradient>
<linearGradient id="mf" x1="0" y1="0" x2="1" y2="0"><stop offset="0" stop-color="#c98f63"/><stop offset="1" stop-color="#e9c09a"/></linearGradient></defs>
<path d="M7.5,25.2 C7.5,18 10,13 15,13 C21,13 26.5,16.5 26.4,22.5 C26,24.5 24,25.2 21,25.2 Z" fill="url(#mb)"/>
<ellipse cx="14" cy="9" rx="5" ry="5.8" fill="url(#mf)"/>
<path d="M8.7,7 C8.5,1.5 14,0 17,0.6 C19.5,1.2 20.5,3.5 20.3,8.1 L18.8,9 C18.5,6 16.5,4.5 9.5,6.5 Z" fill="#5a5a5a"/>
<path d="M1.5,24 L7,23.5 L15.5,20.5" fill="none" stroke="#444" stroke-width="1.1"/>
<circle cx="1.6" cy="24" r="1.1" fill="#888"/>
</svg>
<svg style="left:438.5px;top:63.5px" width="28" height="26" viewBox="0 0 28 26">
<defs><linearGradient id="mb" x1="0" y1="0" x2="1" y2="1"><stop offset="0" stop-color="#7cc0f5"/><stop offset="1" stop-color="#2f86e0"/></linearGradient>
<linearGradient id="mf" x1="0" y1="0" x2="1" y2="0"><stop offset="0" stop-color="#c98f63"/><stop offset="1" stop-color="#e9c09a"/></linearGradient></defs>
<path d="M7.5,25.2 C7.5,18 10,13 15,13 C21,13 26.5,16.5 26.4,22.5 C26,24.5 24,25.2 21,25.2 Z" fill="url(#mb)"/>
<ellipse cx="14" cy="9" rx="5" ry="5.8" fill="url(#mf)"/>
<path d="M8.7,7 C8.5,1.5 14,0 17,0.6 C19.5,1.2 20.5,3.5 20.3,8.1 L18.8,9 C18.5,6 16.5,4.5 9.5,6.5 Z" fill="#5a5a5a"/>
<path d="M1.5,24 L7,23.5 L15.5,20.5" fill="none" stroke="#444" stroke-width="1.1"/>
<circle cx="1.6" cy="24" r="1.1" fill="#888"/>
</svg>
<svg style="left:647.5px;top:63.5px" width="26" height="26" viewBox="0 0 26 26">
<ellipse cx="13" cy="23.5" rx="11" ry="1.5" fill="#ccc" opacity="0.6"/>
<path d="M3.5,23.8 C2,23.5 2.3,21 2.6,19 C3,15.5 5.5,13 9,12.5 L17,12.5 C21,13 23.5,15.5 23.6,19 C23.8,21 24,23.5 22.5,23.8 Z" fill="#141414"/>
<path d="M10,12.5 L13,22 L16,12.5 Z" fill="#4d8fd6"/>
<ellipse cx="13" cy="8" rx="4" ry="5" fill="#f2bfa0"/>
<path d="M8.5,6 C8,1.5 12,0.5 15,1.5 C17.5,2 18,4 17.5,6.5 C16,4.5 11,4 8.5,6 Z" fill="#6b2a18"/>
</svg>
<svg style="left:797.5px;top:64px" width="26" height="26" viewBox="0 0 26 26">
<ellipse cx="13" cy="23.5" rx="11" ry="1.5" fill="#ccc" opacity="0.6"/>
<path d="M3.5,23.8 C2,23.5 2.3,21 2.6,19 C3,15.5 5.5,13 9,12.5 L17,12.5 C21,13 23.5,15.5 23.6,19 C23.8,21 24,23.5 22.5,23.8 Z" fill="#141414"/>
<path d="M10,12.5 L13,22 L16,12.5 Z" fill="#4d8fd6"/>
<ellipse cx="13" cy="8" rx="4" ry="5" fill="#f2bfa0"/>
<path d="M8.5,6 C8,1.5 12,0.5 15,1.5 C17.5,2 18,4 17.5,6.5 C16,4.5 11,4 8.5,6 Z" fill="#6b2a18"/>
</svg>
<svg style="left:946px;top:64px" width="26" height="26" viewBox="0 0 26 26">
<ellipse cx="13" cy="23.5" rx="11" ry="1.5" fill="#ccc" opacity="0.6"/>
<path d="M3.5,23.8 C2,23.5 2.3,21 2.6,19 C3,15.5 5.5,13 9,12.5 L17,12.5 C21,13 23.5,15.5 23.6,19 C23.8,21 24,23.5 22.5,23.8 Z" fill="#141414"/>
<path d="M10,12.5 L13,22 L16,12.5 Z" fill="#4d8fd6"/>
<ellipse cx="13" cy="8" rx="4" ry="5" fill="#f2bfa0"/>
<path d="M8.5,6 C8,1.5 12,0.5 15,1.5 C17.5,2 18,4 17.5,6.5 C16,4.5 11,4 8.5,6 Z" fill="#6b2a18"/>
</svg>
<svg style="left:1103px;top:58.5px" width="30" height="28" viewBox="0 0 30 28">
<path d="M1,27.3 C1,19 5,17.5 10,16.5 L14,16 L16,16 L20,16.5 C25,17.5 29,19 29,27.3 Z" fill="#5bbad5"/>
<path d="M13.6,16.5 L16.4,16.5 L16.8,27.3 L13.2,27.3 Z" fill="#2d3c44"/>
<ellipse cx="15" cy="10.5" rx="5" ry="6" fill="#f1b68a"/>
<path d="M9.5,9 C9,3.5 12,2.5 15,2.5 C18,2.5 21,3.5 20.5,9 C20,6.5 18,5.5 15,5.5 C12,5.5 10,6.5 9.5,9 Z" fill="#6d4a30"/>
</svg>
</body></html>
